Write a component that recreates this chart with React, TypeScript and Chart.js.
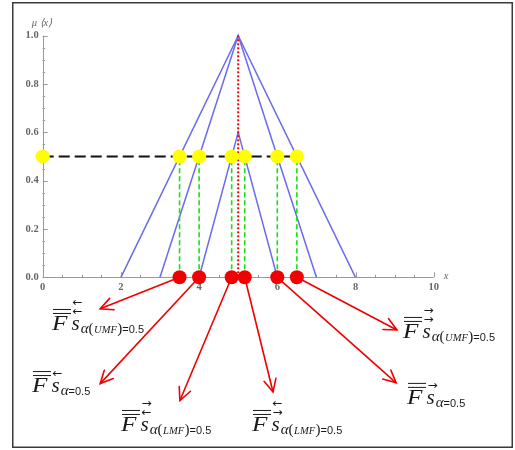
import { useEffect, useRef } from 'react';
import { Chart, registerables } from 'chart.js';

Chart.register(...registerables);

// Interval type-2 triangular fuzzy set: upper MF (outer), middle MF and lower MF
const outerX = [2, 5, 8];
const outerY = [0, 1, 0];
const upperX = [3, 5, 7];
const upperY = [0, 1, 0];
const lowerX = [4, 5, 6];
const lowerY = [0, 0.6, 0];

// alpha-cut level and the points where it crosses each membership function
const alphaLevel = 0.5;
const cutX = [3.5, 4, 4.833, 5.167, 6, 6.5];
const peakX = 5;
const peakY = 1;

// axis ticks
const xMajorTicks = [0, 2, 4, 6, 8, 10];
const xTickLabels = ['0', '2', '4', '6', '8', '10'];
const yMajorTicks = [0, 0.2, 0.4, 0.6, 0.8, 1.0];
const yTickLabels = ['0.0', '0.2', '0.4', '0.6', '0.8', '1.0'];

// callouts: arrow tips (data units) and label anchors (data units)
const arrowTipX = [1.47, 1.47, 3.51, 5.89, 9.04, 9.06];
const arrowTipY = [-0.13, -0.44, -0.51, -0.475, -0.437, -0.218];
const labelX = [0.238, -0.274, 2.003, 5.353, 9.215, 9.317];
const labelY = [-0.218, -0.475, -0.636, -0.636, -0.251, -0.524];
const labelTags = ['UMF', '', 'LMF', 'LMF', 'UMF', ''];
const labelArrows = [['←', '←'], ['←'], ['→', '←'], ['←', '→'], ['→', '→'], ['→']];

const pts = (xs: number[], ys: number[]) => xs.map((x, i) => ({ x, y: ys[i] }));

const BLUE = '#6b6bef';
const RED = '#f00000';
const GREEN = '#18e018';
const YELLOW = '#ffff00';
const TEXT = '#1a1a1a';

function drawLabel(ctx: CanvasRenderingContext2D, x: number, by: number, tag: string, arrows: string[]) {
  ctx.save();
  ctx.fillStyle = TEXT;
  ctx.strokeStyle = TEXT;
  ctx.textBaseline = 'alphabetic';
  ctx.textAlign = 'left';
  // slightly widened italic F
  ctx.save();
  ctx.translate(x, by);
  ctx.scale(1.2, 1);
  ctx.font = 'italic 21px "Liberation Serif"';
  ctx.fillText('F', 0, 0);
  ctx.restore();
  ctx.font = 'italic 21px "Liberation Serif"';
  // double bar over F
  ctx.lineWidth = 1;
  for (const dy of [16.5, 20.5]) {
    ctx.beginPath();
    ctx.moveTo(x + 1, by - dy);
    ctx.lineTo(x + 19, by - dy);
    ctx.stroke();
  }
  const sx = x + 19.5;
  ctx.fillText('s', sx, by);
  const ws = ctx.measureText('s').width;
  // direction arrows right of the bars
  ctx.font = '12px "DejaVu Sans"';
  if (arrows.length === 2) {
    ctx.fillText(arrows[0], sx + 1, by - 24);
    ctx.fillText(arrows[1], sx + 1, by - 15);
  } else {
    ctx.fillText(arrows[0], sx + 1, by - 15);
  }
  // subscript
  let cx = sx + ws + 1;
  const sb = by + 3;
  const put = (t: string, font: string, gap = 0) => {
    ctx.font = font;
    ctx.fillText(t, cx, sb);
    cx += ctx.measureText(t).width + gap;
  };
  put('α', 'italic 15px "Liberation Serif"');
  if (tag) {
    put('(', '15px "Liberation Serif"', 0.5);
    put(tag, 'italic 10.5px "Liberation Serif"', 0.5);
    put(')', '15px "Liberation Serif"');
  }
  put('=0.5', '11px "Liberation Sans"');
  ctx.restore();
}

const decorPlugin = {
  id: 'decor',
  beforeDatasetsDraw(chart: any) {
    const ctx: CanvasRenderingContext2D = chart.ctx;
    const xs = chart.scales.x;
    const ys = chart.scales.y;
    const x0 = xs.getPixelForValue(0);
    const y0 = ys.getPixelForValue(0);
    ctx.save();
    // outer frame
    ctx.strokeStyle = '#3a3a3a';
    ctx.lineWidth = 1.5;
    ctx.strokeRect(12.75, 2.75, 499.5, 444.5);

    ctx.strokeStyle = '#9a9a9a';
    ctx.lineWidth = 1;
    ctx.beginPath();
    ctx.moveTo(Math.round(x0) + 0.5, ys.getPixelForValue(1));
    ctx.lineTo(Math.round(x0) + 0.5, y0);
    ctx.moveTo(x0, Math.round(y0) + 0.5);
    ctx.lineTo(xs.getPixelForValue(10), Math.round(y0) + 0.5);
    // y ticks, drawn inward
    for (let k = 0; k <= 20; k++) {
      const v = k * 0.05;
      const py = Math.round(ys.getPixelForValue(v)) + 0.5;
      const len = k % 4 === 0 ? 5 : 2.5;
      ctx.moveTo(x0, py);
      ctx.lineTo(x0 + len, py);
    }
    // x ticks, drawn inward
    for (let k = 0; k <= 20; k++) {
      const v = k * 0.5;
      const px = Math.round(xs.getPixelForValue(v)) + 0.5;
      const len = k % 4 === 0 ? 5 : 2.5;
      ctx.moveTo(px, y0);
      ctx.lineTo(px, y0 - len);
    }
    ctx.stroke();

    ctx.fillStyle = '#666';
    ctx.font = 'bold 10.5px "Liberation Serif"';
    ctx.textAlign = 'right';
    ctx.textBaseline = 'middle';
    yMajorTicks.forEach((v, i) => ctx.fillText(yTickLabels[i], x0 - 4, ys.getPixelForValue(v)));
    ctx.textAlign = 'center';
    ctx.textBaseline = 'top';
    xMajorTicks.forEach((v, i) => ctx.fillText(xTickLabels[i], xs.getPixelForValue(v), y0 + 5));

    ctx.font = 'italic 10.5px "Liberation Serif"';
    ctx.textAlign = 'left';
    ctx.textBaseline = 'middle';
    ctx.fillText('μ ⟨x⟩', x0 - 11, ys.getPixelForValue(1) - 12);
    ctx.fillText('x', xs.getPixelForValue(10) + 10, y0 - 1);
    ctx.restore();
  },
  afterDatasetsDraw(chart: any) {
    const ctx: CanvasRenderingContext2D = chart.ctx;
    const xs = chart.scales.x;
    const ys = chart.scales.y;
    ctx.save();
    // arrow heads
    ctx.strokeStyle = RED;
    ctx.lineWidth = 1.6;
    ctx.lineCap = 'round';
    cutX.forEach((cx, i) => {
      const sx = xs.getPixelForValue(cx);
      const sy = ys.getPixelForValue(0);
      const tx = xs.getPixelForValue(arrowTipX[i]);
      const ty = ys.getPixelForValue(arrowTipY[i]);
      const ang = Math.atan2(ty - sy, tx - sx);
      const L = 14;
      const w = 0.45;
      ctx.beginPath();
      ctx.moveTo(tx - L * Math.cos(ang - w), ty - L * Math.sin(ang - w));
      ctx.lineTo(tx, ty);
      ctx.lineTo(tx - L * Math.cos(ang + w), ty - L * Math.sin(ang + w));
      ctx.stroke();
    });
    ctx.restore();
    labelX.forEach((lx, i) => {
      drawLabel(ctx, xs.getPixelForValue(lx), ys.getPixelForValue(labelY[i]), labelTags[i], labelArrows[i]);
    });
  },
};

export default function App() {
  const canvasRef = useRef<HTMLCanvasElement | null>(null);

  useEffect(() => {
    if (!canvasRef.current) return;
    const lineDs = (data: any[], color: string, width: number, dash: number[] = []) => ({
      type: 'line' as const,
      data,
      borderColor: color,
      borderWidth: width,
      borderDash: dash,
      pointRadius: 0,
      showLine: true,
      fill: false,
      tension: 0,
      clip: false as any,
    });
    const greenLines = cutX.map((cx) => lineDs([{ x: cx, y: 0 }, { x: cx, y: alphaLevel }], GREEN, 1.6, [5, 3]));
    const arrowShafts = cutX.map((cx, i) =>
      lineDs([{ x: cx, y: 0 }, { x: arrowTipX[i], y: arrowTipY[i] }], RED, 1.6),
    );
    const chart = new Chart(canvasRef.current, {
      type: 'scatter',
      data: {
        datasets: [
          {
            data: cutX.map((x) => ({ x, y: 0 })),
            backgroundColor: RED,
            borderWidth: 0,
            pointRadius: 7,
            clip: false as any,
          },
          {
            data: [0, ...cutX].map((x) => ({ x, y: alphaLevel })),
            backgroundColor: YELLOW,
            borderWidth: 0,
            pointRadius: 7,
            clip: false as any,
          },
          lineDs([{ x: peakX, y: 0 }, { x: peakX, y: peakY }], RED, 2, [2, 2]),
          ...greenLines,
          lineDs([{ x: 0, y: alphaLevel }, { x: cutX[cutX.length - 1], y: alphaLevel }], '#111', 2, [11, 5]),
          lineDs(pts(outerX, outerY), BLUE, 1.5),
          lineDs(pts(upperX, upperY), BLUE, 1.5),
          lineDs(pts(lowerX, lowerY), BLUE, 1.5),
          ...arrowShafts,
        ] as any,
      },
      options: {
        animation: false,
        responsive: false,
        devicePixelRatio: 1,
        layout: { padding: { left: 42.7, top: 35.7, right: 81.3, bottom: 172.7 } },
        plugins: { legend: { display: false }, tooltip: { enabled: false } },
        events: [],
        scales: {
          x: { type: 'linear', min: 0, max: 10, display: false },
          y: { type: 'linear', min: 0, max: 1, display: false },
        },
      },
      plugins: [decorPlugin],
    });
    return () => chart.destroy();
  }, []);

  return (
    <div style={{ position: 'fixed', left: 0, top: 0, width: 515, height: 450, background: '#fff' }}>
      <canvas ref={canvasRef} width={515} height={450} style={{ display: 'block' }} />
    </div>
  );
}
